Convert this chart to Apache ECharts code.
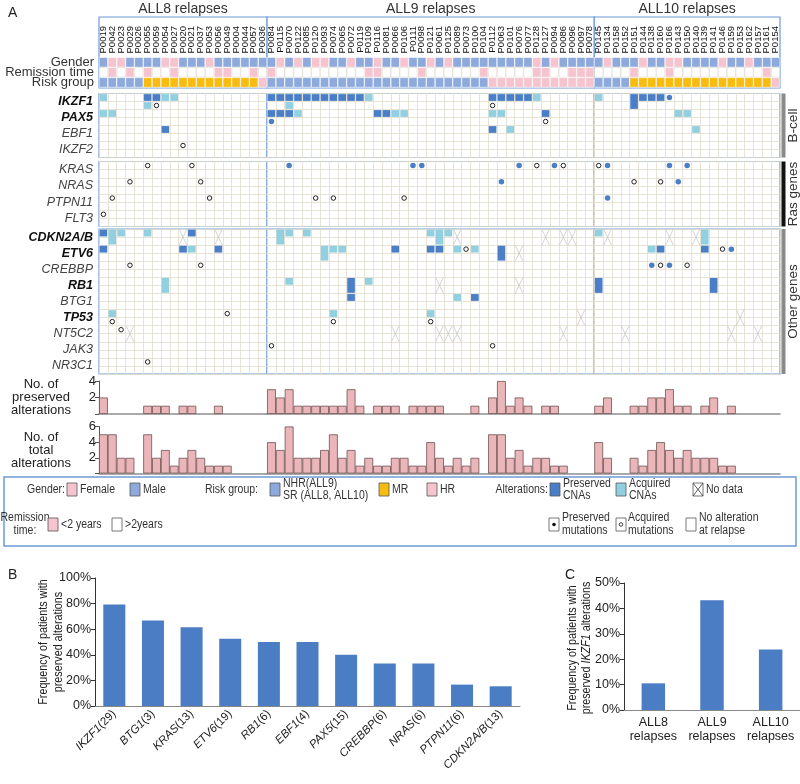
<!DOCTYPE html>
<html><head><meta charset="utf-8">
<script src="https://cdn.jsdelivr.net/npm/echarts@6/dist/echarts.min.js"></script>
<style>html,body{margin:0;padding:0;background:#fff}#c{width:800px;height:784px}</style>
</head><body><div id="c"></div>
<script>
// ---------------- DATA ----------------
const patientsALL8 = ['P0019','P0042','P0023','P0029','P0026','P0055','P0059','P0054','P0027','P0020','P0021','P0037','P0053','P0056','P0049','P0004','P0044','P0057','P0036'];
const patientsALL9 = ['P0084','P0115','P0070','P0122','P0085','P0120','P0093','P0074','P0065','P0072','P0119','P0109','P0116','P0081','P0066','P0106','P0111','P0098','P0121','P0061','P0125','P0089','P0073','P0100','P0104','P0112','P0063','P0101','P0076','P0077','P0128','P0127','P0094','P0086','P0096','P0097','P0078'];
const patientsALL10 = ['P0145','P0134','P0158','P0152','P0151','P0144','P0138','P0160','P0166','P0143','P0150','P0140','P0139','P0141','P0146','P0159','P0153','P0162','P0157','P0161','P0154'];

const genderALL8 = ['M','F','F','M','M','M','M','F','F','M','M','M','F','M','M','M','M','M','M'];
const genderALL9 = ['M','F','M','F','M','F','F','M','M','F','M','M','F','M','M','F','M','M','F','M','F','M','M','M','M','M','M','M','M','M','F','M','F','M','M','M','M'];
const genderALL10 = ['M','F','M','M','M','F','M','M','F','F','M','M','M','M','F','M','M','F','M','M','M'];

// S = <2 years, L = >2 years
const remissionALL8 = ['L','S','L','S','L','S','L','L','S','L','L','L','L','S','S','L','L','S','L'];
const remissionALL9 = ['S','L','L','L','L','L','L','L','L','L','L','S','S','L','L','L','L','S','L','L','L','L','L','L','S','L','L','L','L','L','S','S','L','L','S','S','S'];
const remissionALL10 = ['L','L','L','L','S','L','L','L','S','L','L','L','L','L','L','L','L','L','L','S','L'];

const riskALL8 = ['SR','SR','SR','SR','SR','MR','MR','MR','MR','MR','MR','MR','MR','MR','MR','MR','MR','MR','HR'];
const riskALL9 = ['SR','SR','SR','SR','SR','SR','SR','SR','SR','SR','SR','SR','SR','SR','SR','SR','SR','SR','SR','SR','SR','SR','SR','SR','SR','HR','HR','HR','HR','HR','HR','HR','HR','HR','HR','HR','HR'];
const riskALL10 = ['SR','SR','SR','SR','MR','MR','MR','MR','MR','MR','MR','MR','MR','MR','MR','MR','MR','MR','MR','MR','HR'];

const bcellGenes = ['IKZF1','PAX5','EBF1','IKZF2'];
const rasGenes = ['KRAS','NRAS','PTPN11','FLT3'];
const otherGenes = ['CDKN2A/B','ETV6','CREBBP','RB1','BTG1','TP53','NT5C2','JAK3','NR3C1'];
const boldGenes = ['IKZF1','PAX5','CDKN2A/B','ETV6','RB1','TP53'];

// CNAs: [patient column, sub-row, rows spanned, P=preserved / A=acquired]
const cnaBcellALL8 = [[0,0,1,'A'],[5,0,1,'P'],[6,0,1,'P'],[7,0,1,'A'],[8,0,1,'A'],[5,1,1,'A'],[0,2,1,'A'],[1,2,1,'A'],[7,4,1,'P']];
const cnaBcellALL9 = [[0,0,1,'P'],[1,0,1,'P'],[2,0,1,'P'],[3,0,1,'P'],[4,0,1,'P'],[5,0,1,'P'],[6,0,1,'P'],[7,0,1,'P'],[8,0,1,'P'],[9,0,1,'P'],[10,0,1,'P'],[11,0,1,'A'],
  [25,0,1,'P'],[26,0,1,'P'],[27,0,1,'P'],[28,0,1,'P'],[29,0,1,'P'],[30,0,1,'A'],[2,1,1,'A'],
  [0,2,1,'P'],[1,2,1,'P'],[2,2,1,'P'],[3,2,1,'A'],[12,2,1,'P'],[13,2,1,'P'],[14,2,1,'A'],[15,2,1,'A'],[25,2,1,'A'],[26,2,1,'A'],[31,2,1,'P'],
  [25,4,1,'P'],[27,4,1,'A']];
const cnaBcellALL10 = [[0,0,1,'A'],[4,0,2,'P'],[5,0,1,'P'],[6,0,1,'P'],[7,0,1,'P'],[9,2,1,'A'],[10,2,1,'A'],[11,4,1,'A']];

const cnaOtherALL8 = [[0,0,1,'P'],[1,0,2,'A'],[2,0,1,'A'],[5,0,1,'A'],[10,0,1,'P'],[0,2,1,'P'],[9,2,1,'P'],[10,2,1,'A'],[13,2,1,'P'],[7,6,2,'A'],[1,10,1,'A']];
const cnaOtherALL9 = [[1,0,2,'A'],[2,0,1,'A'],[4,0,1,'A'],[18,0,1,'A'],[19,0,2,'A'],[20,0,1,'A'],
  [6,2,2,'A'],[7,2,1,'A'],[8,2,1,'A'],[14,2,1,'P'],[18,2,1,'P'],[19,2,1,'P'],[21,2,1,'A'],[23,2,1,'A'],[26,2,2,'P'],
  [2,6,1,'A'],[9,6,2,'P'],[11,6,1,'A'],[9,8,1,'P'],[21,8,1,'A'],[23,8,1,'P'],[7,10,1,'A'],[18,10,1,'A']];
const cnaOtherALL10 = [[0,0,1,'A'],[12,0,2,'A'],[6,2,1,'A'],[7,2,1,'P'],[12,2,1,'P'],[0,6,2,'P'],[13,6,2,'P']];

// mutations: [patient column, sub-row, P=preserved / A=acquired]
const mutBcellALL8 = [[6,1,'A'],[9,6,'A']];
const mutBcellALL9 = [[0,3,'P'],[25,1,'A'],[31,3,'A']];
const mutBcellALL10 = [[8,0,'P']];
const mutRasALL8 = [[5,0,'A'],[10,0,'A'],[3,2,'A'],[11,2,'A'],[1,4,'A'],[12,4,'A'],[0,6,'A']];
const mutRasALL9 = [[2,0,'P'],[16,0,'P'],[17,0,'P'],[28,0,'P'],[30,0,'A'],[32,0,'P'],[33,0,'A'],[26,2,'P'],[5,4,'A'],[7,4,'A'],[15,4,'A']];
const mutRasALL10 = [[0,0,'A'],[1,0,'P'],[8,0,'P'],[10,0,'P'],[4,2,'A'],[7,2,'A'],[9,2,'P'],[1,4,'P']];
const mutOtherALL8 = [[3,4,'A'],[11,4,'A'],[14,10,'A'],[1,11,'A'],[2,12,'A'],[5,16,'A']];
const mutOtherALL9 = [[22,2,'A'],[7,11,'A'],[18,11,'A'],[0,14,'A'],[25,14,'A']];
const mutOtherALL10 = [[14,2,'A'],[15,2,'P'],[6,4,'P'],[7,4,'A'],[8,4,'P'],[10,4,'A']];

// no data: [patient column, first sub-row of gene]
const noDataOtherALL8 = [[9,0],[13,0],[3,12]];
const noDataOtherALL9 = [[21,0],[31,0],[33,0],[34,0],[28,2],[19,6],[28,6],[35,10],[14,12],[19,12],[20,12],[21,12],[33,12]];
const noDataOtherALL10 = [[1,0],[8,0],[11,0],[16,10],[3,12],[15,12],[18,12]];

const preservedALL8 = [2,0,0,0,0,1,1,1,0,1,1,0,0,1,0,0,0,0,0];
const preservedALL9 = [3,2,3,1,1,1,1,1,1,3,1,0,1,1,1,0,1,1,1,1,0,0,0,1,0,2,4,1,2,1,0,1,1,0,0,0,0];
const preservedALL10 = [1,2,0,0,1,1,2,2,3,1,1,0,1,2,0,1,0,0,0,0,0];
const totalALL8 = [5,5,2,2,0,5,2,3,1,2,3,2,1,1,1,0,0,0,0];
const totalALL9 = [4,3,6,2,2,2,3,5,2,3,1,2,1,1,2,2,1,1,4,2,1,2,1,2,0,5,5,2,3,1,2,2,1,1,0,0,0];
const totalALL10 = [4,2,0,0,2,1,3,4,3,2,3,2,2,2,1,1,0,0,0,0,0];

const geneFreqCats = ['IKZF1(29)','BTG1(3)','KRAS(13)','ETV6(19)','RB1(6)','EBF1(4)','PAX5(15)','CREBBP(6)','NRAS(6)','PTPN11(6)','CDKN2A/B(13)'];
const geneFreqVals = [79.3,66.7,61.5,52.6,50,50,40,33.3,33.3,16.7,15.4];
const ikzfCats = ['ALL8\nrelapses','ALL9\nrelapses','ALL10\nrelapses'];
const ikzfVals = [10.5,43.2,23.8];

// ---------------- STYLE ----------------
const FONT = "'Liberation Sans', Arial, sans-serif";
const BORDER = '#6d9bd6', GRIDLINE = '#e2dccd', PINK = '#f6c4cf', HBLUE = '#8eaadc', ORANGE = '#f8bc10';
const DARK = '#4a7fc8', CYAN = '#92d0e1', DOT = '#4a7fc8', BARPINK = '#ebb6ba', BARLINE = '#6f5151';
const X0 = 99, X1 = 780, NCOL = 77, CW = (X1 - X0) / NCOL;
const BOX = {hdr:{top:17,h:71}, bcell:{top:93.5,h:64}, ras:{top:161.5,h:65}, other:{top:229,h:145}, pres:{top:381,h:33}, total:{top:426.5,h:47}};

const groupPatients = [patientsALL8, patientsALL9, patientsALL10];
const groupNames = ['ALL8 relapses','ALL9 relapses','ALL10 relapses'];
const gender = [genderALL8, genderALL9, genderALL10];
const remission = [remissionALL8, remissionALL9, remissionALL10];
const risk = [riskALL8, riskALL9, riskALL10];
const cnaB = [cnaBcellALL8, cnaBcellALL9, cnaBcellALL10];
const cnaO = [cnaOtherALL8, cnaOtherALL9, cnaOtherALL10];
const mutB = [mutBcellALL8, mutBcellALL9, mutBcellALL10];
const mutR = [mutRasALL8, mutRasALL9, mutRasALL10];
const mutO = [mutOtherALL8, mutOtherALL9, mutOtherALL10];
const ndO = [noDataOtherALL8, noDataOtherALL9, noDataOtherALL10];
const pres = [preservedALL8, preservedALL9, preservedALL10];
const tot = [totalALL8, totalALL9, totalALL10];
const starts = [0, patientsALL8.length, patientsALL8.length + patientsALL9.length];

const grids = [], xAxes = [], yAxes = [], series = [], graphics = [];
const gx = g => X0 + starts[g] * CW;
const gw = g => groupPatients[g].length * CW;

function addGrid(g, box, gridExtra, xExtra, yExtra) {
  const gi = grids.length;
  grids.push(Object.assign({left: gx(g), top: box.top, width: gw(g), height: box.h}, gridExtra));
  xAxes.push(Object.assign({type:'category', gridIndex: gi, data: groupPatients[g], axisLine:{show:false}, axisTick:{show:false}, axisLabel:{show:false}, splitLine:{show:false}}, xExtra));
  yAxes.push(Object.assign({type:'value', gridIndex: gi, axisLine:{show:false}, axisTick:{show:false}, splitLine:{show:false}, axisLabel:{show:false}}, yExtra));
  return gi;
}

function makeCell(ins) {
  return function (params, api) {
    const c = api.value(0), y0 = api.value(1), span = api.value(2);
    const a = api.coord([c, y0]), b = api.coord([c, y0 + span]);
    const w = api.size([1, 0])[0];
    return {type:'rect', shape:{x: a[0] - w/2 + ins, y: a[1] + ins, width: w - 2*ins, height: b[1] - a[1] - 2*ins}, style: api.style()};
  };
}
function renderCross(params, api) {
  const c = api.value(0), y0 = api.value(1);
  const a = api.coord([c, y0]), b = api.coord([c, y0 + 2]);
  const w = api.size([1, 0])[0];
  const l = a[0] - w/2 + 0.5, r = a[0] + w/2 - 0.5;
  const st = {stroke:'#c9c9c9', lineWidth:0.8};
  return {type:'group', children:[
    {type:'line', shape:{x1:l, y1:a[1], x2:r, y2:b[1]}, style:st},
    {type:'line', shape:{x1:r, y1:a[1], x2:l, y2:b[1]}, style:st}]};
}

const boxGrid = {show:true, borderColor: BORDER, borderWidth: 1.2, backgroundColor:'#fff'};
const cellSplitX = {splitLine:{show:true, interval:0, lineStyle:{color:GRIDLINE, width:0.8}}};

function geneY(g, genes, nSub) {
  return {min:0, max:nSub, interval:1, inverse:true,
    splitLine:{show:true, lineStyle:{color:GRIDLINE, width:0.8}},
    axisLabel: g === 0 ? {show:true, margin:6, formatter: v => {
        if (v % 2 !== 1) return '';
        const n = genes[(v - 1) / 2];
        return boldGenes.includes(n) ? '{b|' + n + '}' : '{n|' + n + '}';
      },
      rich:{b:{fontStyle:'italic', fontWeight:'bold', fontSize:12.5, color:'#111', fontFamily:FONT},
            n:{fontStyle:'italic', fontSize:12.5, color:'#444', fontFamily:FONT}}} : {show:false}};
}

function addMutations(gi, muts) {
  series.push({type:'scatter', xAxisIndex:gi, yAxisIndex:gi, symbol:'circle', symbolSize:5.5, silent:true, z:6,
    data: muts.filter(m => m[2] === 'P').map(m => [m[0], m[1] + 0.5]), itemStyle:{color:DOT, opacity:1}});
  series.push({type:'scatter', xAxisIndex:gi, yAxisIndex:gi, symbol:'circle', symbolSize:4.5, silent:true, z:6,
    data: muts.filter(m => m[2] === 'A').map(m => [m[0], m[1] + 0.5]), itemStyle:{color:'#fff', borderColor:'#222', borderWidth:1, opacity:1}});
}
function addCnas(gi, cnas) {
  series.push({type:'custom', xAxisIndex:gi, yAxisIndex:gi, renderItem: makeCell(0.6), silent:true, z:4, encode:{x:0, y:1},
    data: cnas.map(c => ({value:[c[0], c[1], c[2]], itemStyle:{color: c[3] === 'P' ? DARK : CYAN}}))});
}
function addNoData(gi, nd) {
  series.push({type:'custom', xAxisIndex:gi, yAxisIndex:gi, renderItem: renderCross, silent:true, z:3, encode:{x:0, y:1},
    data: nd.map(d => [d[0], d[1]])});
}

const hdrColor = {M:HBLUE, F:PINK, S:PINK, L:'#ffffff', SR:HBLUE, MR:ORANGE, HR:PINK};
const hdrLabels = {4.5: 'Gender', 5.5: 'Remission time', 6.5: 'Risk group'};

for (let g = 0; g < 3; g++) {
  // header: rows at 4-5, 5-6, 6-7
  let gi = addGrid(g, BOX.hdr, boxGrid,
    {position:'top', axisLabel:{show:true, inside:true, rotate:90, interval:0, margin:9, fontSize:9.5, fontFamily:FONT, color:'#111'}},
    {min:0, max:7.05, interval:0.5, inverse:true,
     axisLabel: g === 0 ? {show:true, margin:5, fontSize:13, fontFamily:FONT, color:'#333', formatter: v => hdrLabels[v] || ''} : {show:false}});
  const rows = [gender[g], remission[g], risk[g]];
  const hd = [];
  rows.forEach((arr, r) => arr.forEach((k, c) => hd.push({value:[c, 4 + r, 1],
    itemStyle:{color: hdrColor[k], borderColor: k === 'L' ? '#d8d3c6' : '#ffffff', borderWidth: 0.5}})));
  series.push({type:'custom', xAxisIndex:gi, yAxisIndex:gi, renderItem: makeCell(0.25), silent:true, encode:{x:0, y:1}, data: hd});

  // B-cell
  gi = addGrid(g, BOX.bcell, boxGrid, cellSplitX, geneY(g, bcellGenes, 8));
  addCnas(gi, cnaB[g]); addMutations(gi, mutB[g]);
  // Ras
  gi = addGrid(g, BOX.ras, boxGrid, cellSplitX, geneY(g, rasGenes, 8));
  addMutations(gi, mutR[g]);
  // Other
  gi = addGrid(g, BOX.other, boxGrid, cellSplitX, geneY(g, otherGenes, 18));
  addNoData(gi, ndO[g]); addCnas(gi, cnaO[g]); addMutations(gi, mutO[g]);

  // bars
  const barX = {axisLine:{show:true, onZero:false, lineStyle:{color:'#8f8f8f', width:1.5}}};
  const barY = (mx, name) => g === 0 ? {min:0, max:mx, interval:2,
      axisLine:{show:true, lineStyle:{color:'#555', width:1}}, axisTick:{show:true, length:4, lineStyle:{color:'#555'}},
      axisLabel:{show:true, margin:3, fontSize:13, fontFamily:FONT, color:'#222', formatter: v => v === 0 ? '' : String(v)},
      name: name, nameLocation:'middle', nameRotate:0, nameGap:58,
      nameTextStyle:{fontSize:13, lineHeight:13, align:'center', color:'#222', fontFamily:FONT}}
    : {min:0, max:mx, interval:2, show:false};
  gi = addGrid(g, BOX.pres, {}, barX, barY(4, 'No. of\npreserved\nalterations'));
  series.push({type:'bar', xAxisIndex:gi, yAxisIndex:gi, barWidth:'100%', silent:true,
    data: pres[g].map(v => v === 0 ? null : v), itemStyle:{color:BARPINK, borderColor:BARLINE, borderWidth:0.8}});
  gi = addGrid(g, BOX.total, {}, barX, barY(6, 'No. of\ntotal\nalterations'));
  series.push({type:'bar', xAxisIndex:gi, yAxisIndex:gi, barWidth:'100%', silent:true,
    data: tot[g].map(v => v === 0 ? null : v), itemStyle:{color:BARPINK, borderColor:BARLINE, borderWidth:0.8}});

  graphics.push({type:'text', x: gx(g) + gw(g)/2, y: 9, style:{text: groupNames[g], align:'center', verticalAlign:'middle', fontSize:14, fontFamily:FONT, fill:'#333'}});
}

// side labels
[['bcell','B-cell','#8a8a8a'],['ras','Ras genes','#111'],['other','Other genes','#8a8a8a']].forEach(([k, t, col]) => {
  const b = BOX[k];
  graphics.push({type:'rect', shape:{x: X1 + 1.5, y: b.top, width: 4, height: b.h}, style:{fill: col}});
  graphics.push({type:'text', x: X1 + 13, y: b.top + b.h/2, rotation: Math.PI/2,
    style:{text: t, align:'center', verticalAlign:'middle', fontSize:13.5, fontFamily:FONT, fill:'#333'}});
});

// panel B
const giB = grids.length;
grids.push({left:95, top:578, width:425, height:128});
xAxes.push({type:'category', gridIndex:giB, data: geneFreqCats, axisLine:{show:true, lineStyle:{color:'#888'}}, axisTick:{show:false},
  axisLabel:{interval:0, rotate:45, margin:6, formatter: v => { const m = v.match(/^(.*?)(\(\d+\))$/); return '{i|' + m[1] + '}{n|' + m[2] + '}'; },
    rich:{i:{fontStyle:'italic', fontSize:11.5, fontFamily:FONT, color:'#222'}, n:{fontSize:11.5, fontFamily:FONT, color:'#222'}}}});
yAxes.push({type:'value', gridIndex:giB, min:0, max:100, interval:20, splitLine:{show:false},
  axisLine:{show:true, lineStyle:{color:'#333'}}, axisTick:{show:true, length:4, lineStyle:{color:'#333'}},
  axisLabel:{formatter:'{value}%', fontSize:12.5, fontFamily:FONT, color:'#222', margin:4}});
series.push({type:'bar', xAxisIndex:giB, yAxisIndex:giB, data: geneFreqVals, barWidth:'57%', silent:true, itemStyle:{color:'#4a7dc3'}});
graphics.push({type:'text', x: 51, y: 642, rotation: Math.PI/2, scaleX: 0.86,
  style:{text:'Frequency of patients with\npreserved alterations', align:'center', verticalAlign:'middle', fontSize:12.5, lineHeight:14.5, fontFamily:FONT, fill:'#222'}});

// panel C
const giC = grids.length;
grids.push({left:624, top:583, width:176, height:127});
xAxes.push({type:'category', gridIndex:giC, data: ikzfCats, axisLine:{show:true, lineStyle:{color:'#888'}}, axisTick:{show:false},
  axisLabel:{interval:0, margin:6, fontSize:12.5, lineHeight:14, fontFamily:FONT, color:'#222'}});
yAxes.push({type:'value', gridIndex:giC, min:0, max:50, interval:10, splitLine:{show:false},
  axisLine:{show:true, lineStyle:{color:'#333'}}, axisTick:{show:true, length:4, lineStyle:{color:'#333'}},
  axisLabel:{formatter:'{value}%', fontSize:12.5, fontFamily:FONT, color:'#222', margin:4}});
series.push({type:'bar', xAxisIndex:giC, yAxisIndex:giC, data: ikzfVals, barWidth:'40%', silent:true, itemStyle:{color:'#4a7dc3'}});
graphics.push({type:'text', x: 580, y: 648, rotation: Math.PI/2, scaleX: 0.86,
  style:{text:'{n|Frequency of patients with}\n{n|preserved }{i|IKZF1}{n| alterations}', align:'center', verticalAlign:'middle', fontFamily:FONT, fill:'#222',
    rich:{n:{fontSize:12.5, lineHeight:14, fontFamily:FONT, fill:'#222'}, i:{fontSize:12.5, lineHeight:14, fontStyle:'italic', fontFamily:FONT, fill:'#222'}}}});

// panel letters
[['A',8,13],['B',8,575],['C',565,575]].forEach(([t,x,y]) => graphics.push({type:'text', x, y, style:{text:t, fontSize:14, fontFamily:FONT, fill:'#222', verticalAlign:'middle'}}));

// legend
const L = [];
const lt = (x, y, t, align) => L.push({type:'text', x, y, scaleX:0.84, style:{text:t, align: align || 'left', verticalAlign:'middle', fontSize:12.5, fontFamily:FONT, fill:'#333'}});
const sq = (x, y, fill) => L.push({type:'rect', shape:{x, y, width:10, height:13}, style:{fill, stroke:'#555', lineWidth:0.8}});
L.push({type:'rect', shape:{x:4, y:477, width:792, height:69}, style:{fill:'none', stroke:BORDER, lineWidth:1.5}});
lt(65, 490, 'Gender:', 'right'); sq(67, 483, PINK); lt(80, 490, 'Female');
sq(130, 483, HBLUE); lt(143, 490, 'Male');
lt(258, 490, 'Risk group:', 'right'); sq(270, 483, HBLUE); lt(283, 484, 'NHR(ALL9)'); lt(283, 496, 'SR (ALL8, ALL10)');
sq(379, 483, ORANGE); lt(392, 490, 'MR');
sq(427, 483, PINK); lt(440, 490, 'HR');
lt(548, 490, 'Alterations:', 'right'); sq(550, 483, DARK); lt(563, 484, 'Preserved'); lt(563, 496, 'CNAs');
sq(616, 483, CYAN); lt(629, 484, 'Acquired'); lt(629, 496, 'CNAs');
sq(693, 483, '#fff');
L.push({type:'line', shape:{x1:693, y1:483, x2:703, y2:496}, style:{stroke:'#333', lineWidth:0.8}});
L.push({type:'line', shape:{x1:703, y1:483, x2:693, y2:496}, style:{stroke:'#333', lineWidth:0.8}});
lt(706, 490, 'No data');
lt(25, 518, 'Remission', 'center'); lt(25, 531, 'time:', 'center');
sq(48, 518, PINK); lt(61, 525, '<2 years');
sq(112, 518, '#fff'); lt(125, 525, '>2years');
sq(549, 518, '#fff'); L.push({type:'circle', shape:{cx:554, cy:524.5, r:1.8}, style:{fill:'#111'}});
lt(562, 518, 'Preserved'); lt(562, 531, 'mutations');
sq(616, 518, '#fff'); L.push({type:'circle', shape:{cx:621, cy:524.5, r:1.8}, style:{fill:'#fff', stroke:'#111', lineWidth:0.8}});
lt(628, 518, 'Acquired'); lt(628, 531, 'mutations');
sq(686, 518, '#fff'); lt(699, 518, 'No alteration'); lt(699, 531, 'at relapse');

const chart = echarts.init(document.getElementById('c'));
chart.setOption({
  animation:false, backgroundColor:'#fff',
  grid: grids, xAxis: xAxes, yAxis: yAxes, series: series,
  graphic: graphics.concat(L)
});
</script></body></html>
